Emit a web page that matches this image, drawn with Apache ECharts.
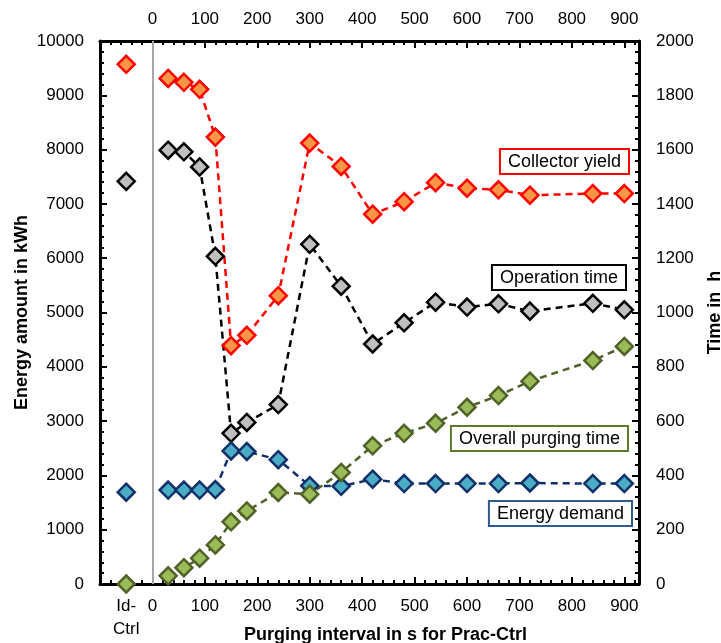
<!DOCTYPE html>
<html>
<head>
<meta charset="utf-8">
<script src="https://cdn.jsdelivr.net/npm/echarts@6/dist/echarts.min.js"></script>
<style>
  html, body { margin: 0; padding: 0; background: #fff; }
  #chart { width: 721px; height: 643px; }
</style>
</head>
<body>
<div id="chart"></div>
<script>
// Purging intervals (s) for the practical controller
const intervals = [30, 60, 90, 120, 150, 180, 240, 300, 360, 420, 480, 540, 600, 660, 720, 840, 900];
// Position of the ideal-controller reference column on the x axis
const idCtrlPos = -50;
const idCtrlLabel = 'Id-\nCtrl';

// Energy amounts in kWh (left axis)
const collectorYield = [9310, 9240, 9110, 8230, 4390, 4580, 5310, 8120, 7690, 6810, 7040, 7390, 7290, 7260, 7160, 7190, 7190];
const collectorYieldId = 9570;
const energyDemand = [1730, 1730, 1730, 1740, 2450, 2440, 2290, 1810, 1800, 1930, 1850, 1850, 1850, 1850, 1860, 1850, 1850];
const energyDemandId = 1690;

// Times in h (right axis)
const operationTime = [1598, 1592, 1536, 1207, 555, 595, 661, 1251, 1097, 884, 962, 1038, 1020, 1032, 1005, 1034, 1010];
const operationTimeId = 1483;
const purgingTime = [30, 60, 95, 144, 229, 269, 337, 331, 411, 509, 555, 592, 651, 694, 747, 823, 875];
const purgingTimeId = 0;

// Axis ranges and labels
const xMin = -100, xMax = 928;
const energyMax = 10000, energyStep = 1000;
const timeMax = 2000, timeStep = 200;
const xTitle = 'Purging interval in s for Prac-Ctrl';
const yLeftTitle = 'Energy amount in kWh';
const yRightTitle = 'Time in  h';

const FONT = "'Liberation Sans', Arial, sans-serif";

const pairs = (ys) => intervals.map((x, i) => [x, ys[i]]);

const axisLine = { show: true, onZero: false, lineStyle: { color: '#000', width: 3 } };
const tickIn = { show: true, inside: true, length: 7, lineStyle: { color: '#000', width: 2 } };
const minorIn = { show: true, splitNumber: 5, length: 4, lineStyle: { color: '#000', width: 2 } };
const tickLabel = { color: '#000', fontSize: 17, fontFamily: FONT };
const titleStyle = { color: '#000', fontSize: 18, fontWeight: 'bold', fontFamily: FONT };

function lineSeries(name, ys, yIdx, lineColor, fill, border) {
  return {
    name, type: 'line', xAxisIndex: 0, yAxisIndex: yIdx,
    data: pairs(ys),
    symbol: 'diamond', symbolSize: 17,
    lineStyle: { color: lineColor, width: 2.5, type: [7, 5] },
    itemStyle: { color: fill, borderColor: border, borderWidth: 2.5 },
    emphasis: { disabled: true },
    animation: false
  };
}
function idSeries(name, y, yIdx, fill, border) {
  return {
    name: name + ' (Id-Ctrl)', type: 'scatter', xAxisIndex: 0, yAxisIndex: yIdx,
    data: [[idCtrlPos, y]],
    symbol: 'diamond', symbolSize: 17,
    itemStyle: { color: fill, borderColor: border, borderWidth: 2.5, opacity: 1 },
    emphasis: { disabled: true },
    animation: false
  };
}

function boxLabel(text, right, top, color) {
  return {
    type: 'text', right, top, z: 100,
    style: {
      text, fill: '#000', fontSize: 18, fontFamily: FONT,
      backgroundColor: '#fff', borderColor: color, borderWidth: 2,
      padding: [3, 7, 2, 7]
    }
  };
}

const chart = echarts.init(document.getElementById('chart'), null, { renderer: 'canvas' });
chart.setOption({
  backgroundColor: '#fff',
  animation: false,
  grid: { left: 100, right: 82, top: 41, bottom: 59, containLabel: false, outerBoundsMode: 'none' },
  xAxis: [
    {
      type: 'value', position: 'bottom', min: xMin, max: xMax, interval: 100,
      axisLine, axisTick: tickIn, minorTick: minorIn,
      axisLabel: { show: false }, splitLine: { show: false }
    },
    {
      type: 'value', position: 'bottom', min: xMin, max: xMax, interval: 50,
      axisLine: { show: false }, axisTick: { show: false }, splitLine: { show: false },
      axisLabel: Object.assign({}, tickLabel, {
        margin: 11, lineHeight: 23, align: 'center',
        formatter: (v) => v === idCtrlPos ? idCtrlLabel : (v >= 0 && v % 100 === 0 ? String(v) : '')
      }),
      name: xTitle, nameLocation: 'middle', nameGap: 42, nameMoveOverlap: false,
      nameTextStyle: Object.assign({}, titleStyle, { padding: [0, 0, 0, 32] })
    },
    {
      type: 'value', position: 'top', min: xMin, max: xMax, interval: 100,
      axisLine, axisTick: tickIn, minorTick: minorIn, splitLine: { show: false },
      axisLabel: Object.assign({}, tickLabel, {
        margin: 13,
        formatter: (v) => (v >= 0 && v % 100 === 0 ? String(v) : '')
      })
    }
  ],
  yAxis: [
    {
      type: 'value', position: 'left', min: 0, max: energyMax, interval: energyStep,
      axisLine, axisTick: tickIn, minorTick: minorIn, splitLine: { show: false },
      axisLabel: Object.assign({}, tickLabel, { margin: 16, formatter: (v) => String(v) }),
      name: yLeftTitle, nameLocation: 'middle', nameGap: 69, nameRotate: 90, nameMoveOverlap: false,
      nameTextStyle: titleStyle
    },
    {
      type: 'value', position: 'right', min: 0, max: timeMax, interval: timeStep,
      axisLine, axisTick: tickIn, minorTick: minorIn, splitLine: { show: false },
      axisLabel: Object.assign({}, tickLabel, { margin: 17, formatter: (v) => String(v) }),
      name: yRightTitle, nameLocation: 'middle', nameGap: 67, nameRotate: 90, nameMoveOverlap: false,
      nameTextStyle: titleStyle
    }
  ],
  series: [
    Object.assign(lineSeries('Collector yield', collectorYield, 0, '#FF0000', '#F79646', '#FF0000'), {
      markLine: {
        silent: true, symbol: ['none', 'none'], animation: false,
        label: { show: false },
        lineStyle: { color: '#A6A6A6', width: 2, type: 'solid' },
        data: [{ xAxis: 0 }]
      }
    }),
    idSeries('Collector yield', collectorYieldId, 0, '#F79646', '#FF0000'),
    lineSeries('Operation time', operationTime, 1, '#000000', '#BFBFBF', '#000000'),
    idSeries('Operation time', operationTimeId, 1, '#BFBFBF', '#000000'),
    lineSeries('Energy demand', energyDemand, 0, '#10306A', '#4BACC6', '#10306A'),
    idSeries('Energy demand', energyDemandId, 0, '#4BACC6', '#10306A'),
    lineSeries('Overall purging time', purgingTime, 1, '#4F6228', '#9BBB59', '#4F6228'),
    idSeries('Overall purging time', purgingTimeId, 1, '#9BBB59', '#4F6228')
  ],
  graphic: [
    boxLabel('Collector yield', 91, 148, '#FF0000'),
    boxLabel('Operation time', 94, 264, '#000000'),
    boxLabel('Overall purging time', 92, 425, '#5E7B2E'),
    boxLabel('Energy demand', 88, 500, '#2E5A8C')
  ]
});
</script>
</body>
</html>
